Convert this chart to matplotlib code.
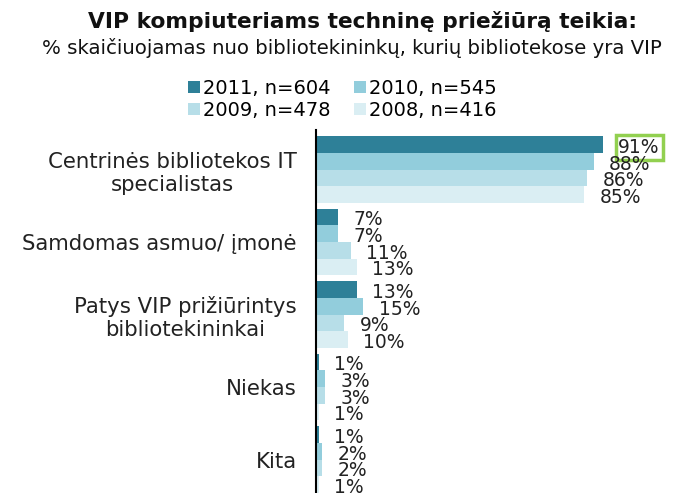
import matplotlib
matplotlib.use("Agg")
import matplotlib.pyplot as plt
from matplotlib.patches import Patch

categories = ["Centrinės bibliotekos IT\nspecialistas", "Samdomas asmuo/ įmonė",
              "Patys VIP prižiūrintys\nbibliotekininkai", "Niekas", "Kita"]
series_labels = ["2011, n=604", "2010, n=545", "2009, n=478", "2008, n=416"]
v2011 = [91, 7, 13, 1, 1]
v2010 = [88, 7, 15, 3, 2]
v2009 = [86, 11, 9, 3, 2]
v2008 = [85, 13, 10, 1, 1]
series_values = [v2011, v2010, v2009, v2008]
colors = ["#2E8098", "#92CDDC", "#B7DEE8", "#DAEEF3"]

W, H = 678, 493
fig = plt.figure(figsize=(W / 100, H / 100), dpi=100)
ax = fig.add_axes([316 / W, 0, 347 / W, (493 - 130) / H])

h = 0.228
offsets = [-1.5 * h, -0.5 * h, 0.5 * h, 1.5 * h]
for s, (vals, col, off) in enumerate(zip(series_values, colors, offsets)):
    ys = [i + off for i in range(len(categories))]
    ax.barh(ys, vals, height=h, color=col, edgecolor="none")
    for i, (y, v) in enumerate(zip(ys, vals)):
        kw = {}
        if s == 0 and i == 0:
            kw["bbox"] = dict(boxstyle="square,pad=0.15", fc="white", ec="#92D050", lw=2.5)
        ax.annotate(f"{v}%", xy=(v, y), xytext=(11, -2), textcoords="offset points",
                    ha="left", va="center", fontsize=13.5, color="#222222", **kw)

ax.set_xlim(0, 110)
ax.set_ylim(4.462, -0.545)
ax.set_yticks(range(len(categories)))
ax.set_yticklabels(categories, fontsize=15.3, color="#222222")
for lbl in ax.get_yticklabels():
    lbl.set_multialignment("center")
ax.tick_params(axis="y", length=0, pad=14)
ax.set_xticks([])
for sp in ["top", "right", "bottom"]:
    ax.spines[sp].set_visible(False)
ax.spines["left"].set_linewidth(1.5)
ax.spines["left"].set_color("black")

fig.text(362 / W, 1 - 22 / H, "VIP kompiuteriams techninę priežiūrą teikia:",
         ha="center", va="center", fontsize=15.7, fontweight="bold", color="#111111")
fig.text(352 / W, 1 - 48 / H, "% skaičiuojamas nuo bibliotekininkų, kurių bibliotekose yra VIP",
         ha="center", va="center", fontsize=14.2, color="#111111")

handles = [Patch(facecolor=c, edgecolor="none") for c in colors]
order = [0, 2, 1, 3]
fig.legend([handles[k] for k in order], [series_labels[k] for k in order], ncol=2,
           loc="center", bbox_to_anchor=(342 / W, 1 - 99.5 / H),
           frameon=False, fontsize=14, handlelength=0.62, handleheight=0.62,
           handletextpad=0.15, columnspacing=1.2, labelspacing=0.15,
           borderpad=0, borderaxespad=0)

fig.savefig("out.png", dpi=100)
